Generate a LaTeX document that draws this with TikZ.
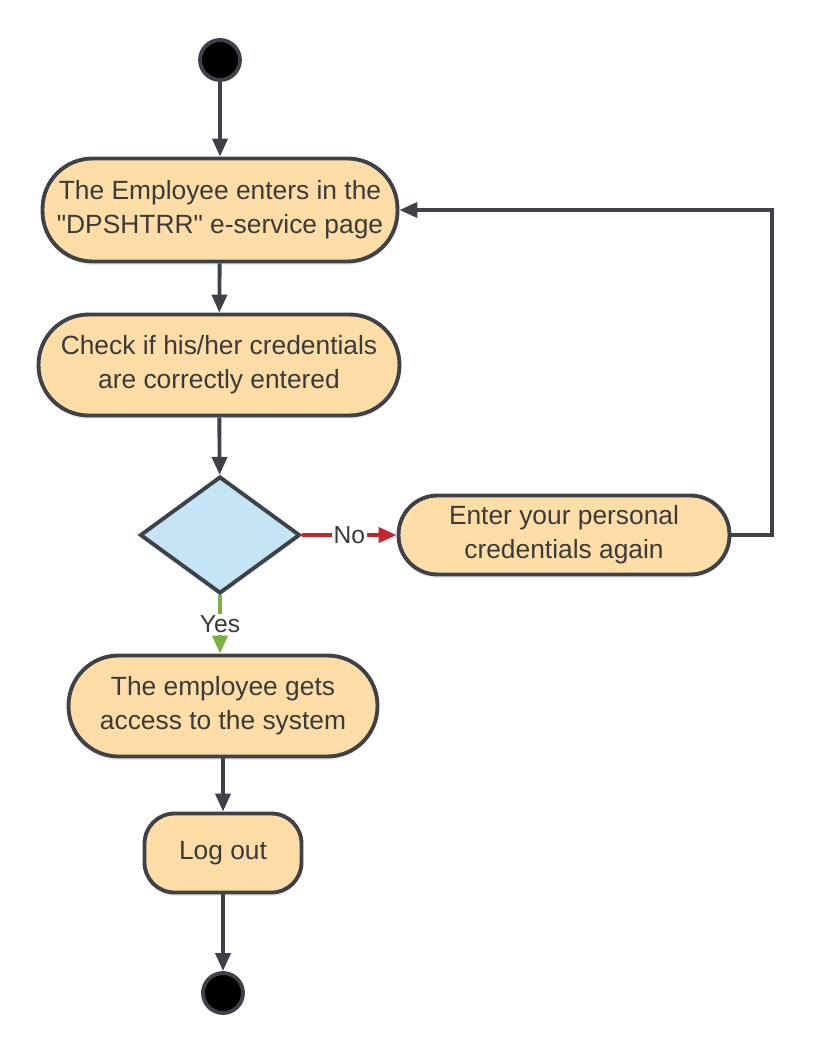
\documentclass[tikz,border=0pt]{standalone}
\usepackage{fontspec}
\newfontfamily\chartfont{Liberation Sans}
\usetikzlibrary{arrows.meta,shapes.geometric,shadows}
\definecolor{stepfill}{RGB}{255,221,166}
\definecolor{decfill}{RGB}{197,228,246}
\definecolor{edgegray}{RGB}{62,66,72}
\definecolor{noline}{RGB}{196,38,46}
\definecolor{yesline}{RGB}{122,178,64}
\definecolor{txtgray}{RGB}{58,58,58}

\begin{document}
\begin{tikzpicture}[x=0.02cm, y=-0.02cm, line width=2.2pt, draw=edgegray,
    >={Triangle[length=0.36cm,width=0.3cm]}]
    \tikzstyle{flow}=[->, draw=edgegray]
    \tikzstyle{activity}=[rectangle, rounded corners=0.8cm, draw=edgegray, fill=stepfill,
        text=txtgray, align=center, inner sep=0pt, font=\chartfont\fontsize{15}{19.3}\selectfont,
        drop shadow={opacity=0.15, shadow xshift=0pt, shadow yshift=-2pt}]
    \tikzstyle{decision}=[diamond, draw=edgegray, fill=decfill, inner sep=0pt,
        minimum width=3.2cm, minimum height=2.34cm,
        drop shadow={opacity=0.15, shadow xshift=0pt, shadow yshift=-2pt}]
    \tikzstyle{terminal}=[circle, fill=black, draw=edgegray, minimum size=0.8cm, inner sep=0pt]
    \tikzstyle{guard}=[fill=white, text=txtgray, inner sep=1pt, font=\chartfont\fontsize{14}{17}\selectfont]

    \useasboundingbox (0,0) rectangle (814,1054);

    % Draw the start and end points
    \node[terminal] (start) at (220,60) {};
    \node[terminal] (stop) at (223,993) {};

    % Draw the activities
    \node[activity, minimum width=7.1cm, minimum height=2.06cm, rounded corners=1cm] (enter) at (220,210)
        {The Employee enters in the\\"DPSHTRR" e-service page};
    \node[activity, minimum width=7.22cm, minimum height=2.02cm, rounded corners=1cm] (check) at (219,365)
        {Check if his/her credentials\\are correctly entered};
    \node[decision] (valid) at (220,535) {};
    \node[activity, minimum width=6.62cm, minimum height=1.58cm, rounded corners=0.78cm] (again) at (564,535)
        {Enter your personal\\credentials again};
    \node[activity, minimum width=6.18cm, minimum height=2.02cm, rounded corners=1cm] (access) at (223,706)
        {The employee gets\\access to the system};
    \node[activity, minimum width=3.14cm, minimum height=1.58cm, rounded corners=0.6cm] (logout) at (223,853)
        {Log out};

    % Draw the flow
    \draw[flow] (start) -- (enter);
    \draw[flow] (enter) -- (check);
    \draw[flow] (check) -- (valid);
    \draw[flow, draw=noline] (valid.east) -- node[guard]{No} (again.west);
    \coordinate (back) at (772,535);
    \draw[flow] (again.east) -- (back) |- (enter.east);
    \draw[flow, draw=yesline] (valid.south) -- node[guard]{Yes} (valid.south |- access.north);
    \draw[flow] (access) -- (logout);
    \draw[flow] (logout) -- (stop);
\end{tikzpicture}
\end{document}
